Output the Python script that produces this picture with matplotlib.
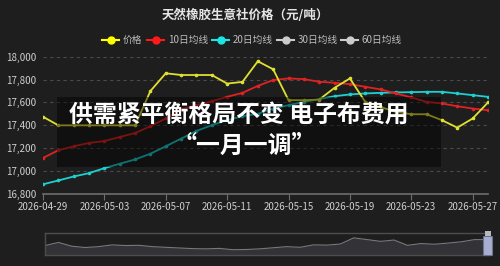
import numpy as np
import matplotlib
matplotlib.use("Agg")
import matplotlib.pyplot as plt
from matplotlib.lines import Line2D
from matplotlib.patches import FancyBboxPatch, Rectangle

plt.rcParams['font.family'] = ['Noto Sans CJK SC', 'DejaVu Sans']

# 数据
dates = ['2026-04-29', '2026-05-03', '2026-05-07', '2026-05-11',
         '2026-05-15', '2026-05-19', '2026-05-23', '2026-05-27']
price = [17475, 17400, 17400, 17400, 17400, 17400, 17400, 17700, 17855, 17840,
         17840, 17840, 17765, 17780, 17960, 17890, 17620, 17620, 17625, 17728,
         17810, 17605, 17560, 17518, 17497, 17497, 17445, 17380, 17460, 17600]
ma10 = [17115, 17182, 17217, 17246, 17263, 17298, 17333, 17392, 17460, 17540,
        17576, 17611, 17649, 17684, 17745, 17796, 17810, 17804, 17781, 17772,
        17760, 17737, 17714, 17679, 17644, 17605, 17591, 17567, 17547, 17532]
ma20 = [16885, 16918, 16953, 16982, 17026, 17064, 17102, 17152, 17217, 17284,
        17351, 17401, 17445, 17480, 17500, 17547, 17576, 17605, 17629, 17655,
        17670, 17679, 17684, 17688, 17690, 17693, 17693, 17679, 17664, 17649]
legend_names = ['价格', '10日均线', '20日均线', '30日均线', '60日均线']
legend_colors = ['#ffff00', '#ff1a1a', '#1ae6e6', '#cccccc', '#cccccc']
# 缩略图中的历史走势（相对高度）
overview = [0.43, 0.57, 0.40, 0.34, 0.38, 0.46, 0.43, 0.44, 0.38, 0.35, 0.32,
            0.29, 0.28, 0.30, 0.24, 0.25, 0.28, 0.33, 0.38, 0.35, 0.46, 0.45,
            0.50, 0.78, 0.70, 0.62, 0.68, 0.44, 0.52, 0.49, 0.54, 0.60, 0.70, 0.70]

bg = '#1e1e1e'
W, H = 500, 266
fig = plt.figure(figsize=(5, 2.66), dpi=100, facecolor=bg)

def fx(px):
    return px / W

def fy(py):
    return 1 - py / H

ax = fig.add_axes([fx(43), fy(194), fx(488) - fx(43), fy(56.7) - fy(194)])
ax.set_facecolor(bg)
x = np.arange(len(price))
ax.plot(x, ma20, color='#1ecfd0', lw=1.3, marker='o', ms=1.6, zorder=3)
ax.plot(x, ma10, color='#e02222', lw=1.3, marker='o', ms=1.6, zorder=3)
ax.plot(x, price, color='#e0e030', lw=1.3, marker='o', ms=1.6, zorder=4)
ax.set_xlim(0, len(price) - 1)
ax.set_ylim(16800, 18000)
ax.set_yticks(np.arange(16800, 18001, 200))
ax.set_yticklabels([f'{v:,}' for v in range(16800, 18001, 200)])
ax.set_xticks(np.arange(0, 29, 4))
ax.set_xticklabels(dates)
ax.grid(axis='y', color='#4a4a4a', ls=(0, (3, 3)), lw=0.8)
for s in ['top', 'right', 'left']:
    ax.spines[s].set_visible(False)
ax.spines['bottom'].set_color('#6e6e6e')
ax.spines['bottom'].set_linewidth(1.2)
ax.tick_params(axis='y', length=0, colors='#cfcfcf', labelsize=7, pad=5)
ax.tick_params(axis='x', length=4, color='#6e6e6e', colors='#cfcfcf', labelsize=7, pad=1.5)
ax.set_axisbelow(True)

# 标题
fig.text(fx(245), fy(15), '天然橡胶生意社价格（元/吨）', color='#e6e6e6', fontsize=9,
         fontweight='bold', ha='center', va='center')

# 图例
leg_x = [102, 147, 212, 277, 341]
for xx, name, c in zip(leg_x, legend_names, legend_colors):
    fig.add_artist(Line2D([fx(xx), fx(xx + 17)], [fy(40), fy(40)], color=c, lw=1.5,
                          transform=fig.transFigure))
    fig.add_artist(Line2D([fx(xx + 8.5)], [fy(40)], marker='o', ms=5, color=c,
                          transform=fig.transFigure))
    fig.text(fx(xx + 21), fy(40), name, color='#bdbdbd', fontsize=7, ha='left', va='center')

# 半透明遮罩和标题文字
fig.add_artist(Rectangle((fx(57), fy(167)), fx(441) - fx(57), fy(97) - fy(167),
                         transform=fig.transFigure, facecolor='black', alpha=0.45,
                         edgecolor='none', zorder=5))
fig.text(fx(238.5), fy(116), '供需紧平衡格局不变 电子布费用', color='white', fontsize=17.2,
         fontweight='bold', ha='center', va='center', zorder=6)
fig.text(fx(244), fy(146), '“一月一调”', color='white', fontsize=17.2,
         fontweight='bold', ha='center', va='center', zorder=6)

# 底部缩放条
sx = fig.add_axes([fx(45), fy(255), fx(488) - fx(45), fy(233) - fy(255)])
sx.set_facecolor(bg)
ox = np.arange(len(overview))
sx.fill_between(ox, 0, overview, color='#323237', lw=0)
sx.plot(ox, overview, color='#77777c', lw=0.8)
sx.set_xlim(0, len(overview) - 1)
sx.set_ylim(0, 1)
sx.set_xticks([])
sx.set_yticks([])
for s in sx.spines.values():
    s.set_color('#4d4d4d')
    s.set_linewidth(1)
fig.add_artist(FancyBboxPatch((fx(484.5), fy(255)), fx(7), fy(237) - fy(255),
                              boxstyle='round,pad=0.002', transform=fig.transFigure,
                              facecolor='#a8aed0', edgecolor='#6c7290', lw=0.8, zorder=7))
fig.add_artist(Rectangle((fx(485), fy(236)), fx(6), fy(231) - fy(236),
                         transform=fig.transFigure, facecolor='#b8b8c0',
                         edgecolor='none', zorder=7))

fig.savefig('out.png', dpi=100, facecolor=bg)
